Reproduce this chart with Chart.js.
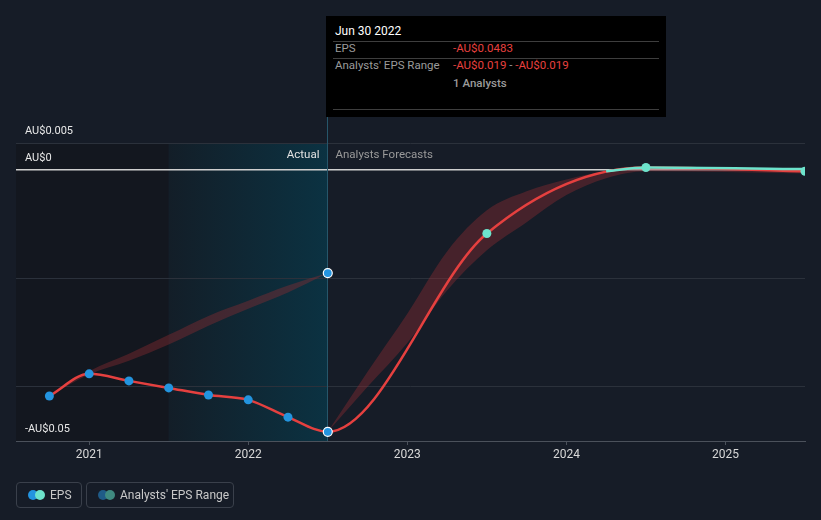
<!DOCTYPE html>
<html>
<head>
<meta charset="utf-8">
<script src="https://cdn.jsdelivr.net/npm/chart.js@4.4.1/dist/chart.umd.min.js"></script>
<style>
  body { margin: 0; background: #161c27; font-family: Roboto, 'Noto Sans', sans-serif; }
  #wrap { position: relative; width: 821px; height: 520px; overflow: hidden; }
  #tip { position: absolute; left: 326px; top: 16px; width: 340px; height: 101px; background: #000; font-size: 11.5px; }
  #tip .t { position: absolute; white-space: nowrap; line-height: 14px; }
  #tip .hr { position: absolute; left: 7px; width: 326px; height: 1px; background: #3e3e3e; }
  .red { color: #e8403f; }
  .gray { color: #9b9b9b; }
  .lg { position: absolute; top: 482px; height: 26px; border: 1px solid #3a404b; border-radius: 4px; box-sizing: border-box; }
  .lg .d { position: absolute; top: 7px; width: 10px; height: 10px; border-radius: 50%; }
  .lg .l { position: absolute; top: 5px; font-size: 12px; color: #c8c8c8; white-space: nowrap; line-height: 14px; }
</style>
</head>
<body>
<div id="wrap">
  <canvas id="eps" width="821" height="520"></canvas>

  <div id="tip">
    <div class="t" style="left:9px;top:8px;color:#fff;font-size:12px;">Jun 30 2022</div>
    <div class="hr" style="top:25px"></div>
    <div class="t gray" style="left:9px;top:25px;">EPS</div>
    <div class="t red" style="left:127px;top:25px;">-AU$0.0483</div>
    <div class="hr" style="top:42px"></div>
    <div class="t gray" style="left:9px;top:42px;">Analysts' EPS Range</div>
    <div class="t" style="left:127px;top:42px;"><span class="red">-AU$0.019</span><span class="gray"> - </span><span class="red">-AU$0.019</span></div>
    <div class="t gray" style="left:127px;top:60px;font-weight:500;">1 Analysts</div>
    <div class="hr" style="top:93px"></div>
  </div>

  <div class="lg" style="left:16px;width:66px;">
    <span class="d" style="left:11px;background:#2394df"></span>
    <span class="d" style="left:18px;background:#6de3cc"></span>
    <span class="l" style="left:33px">EPS</span>
  </div>
  <div class="lg" style="left:86px;width:148px;">
    <span class="d" style="left:11px;background:#1f5b87"></span>
    <span class="d" style="left:18px;background:#3f8a80"></span>
    <span class="l" style="left:33px">Analysts' EPS Range</span>
  </div>
</div>

<script>
// time as decimal years, EPS in AU$
var histX   = [2020.75, 2021.0, 2021.25, 2021.5, 2021.75, 2022.0, 2022.25, 2022.5];
var histEps = [-0.0417, -0.0376, -0.0389, -0.0402, -0.0415, -0.0424, -0.0456, -0.0483];
var fcX   = [2023.5, 2024.5, 2025.5];
var fcEps = [-0.0117, 0.0005, -0.0002];

// positive part of the forecast line (drawn in green)
var posX   = [2024.25, 2024.5, 2025.5];
var posEps = [-0.0002, 0.0005, 0.0002];

// past analyst estimate range
var pastRangeX    = [2020.75, 2021.0, 2021.25, 2021.5, 2021.75, 2022.0, 2022.25, 2022.5];
var pastRangeHigh = [-0.0417, -0.0371, -0.0339, -0.0304, -0.0269, -0.0241, -0.0213, -0.019];
var pastRangeLow  = [-0.0417, -0.0377, -0.0352, -0.0322, -0.0287, -0.0256, -0.0226, -0.019];

// forecast range
var fcRangeX    = [2022.5, 2022.75, 2023.0, 2023.25, 2023.5, 2023.75, 2024.0, 2024.25, 2024.5, 2025.5];
var fcRangeHigh = [-0.0483, -0.0372, -0.0265, -0.0150, -0.0074, -0.0039, -0.0017, -0.0002, 0.0006, 0.0003];
var fcRangeLow  = [-0.0483, -0.0400, -0.0319, -0.0222, -0.0148, -0.0096, -0.0046, -0.0015, -0.0002, -0.0006];

var xTicks = [2021, 2022, 2023, 2024, 2025];
var yTicks = [-0.05, -0.04, -0.02, 0, 0.005];
var yLabels = { '-0.05': '-AU$0.05', '0': 'AU$0', '0.005': 'AU$0.005' };

var actualStart = 2021.5;
var actualEnd = 2022.5;

function pts(xs, ys) {
  return xs.map(function (x, i) { return { x: x, y: ys[i] }; });
}

var FONT = 'Roboto, "Noto Sans", sans-serif';

var backdrop = {
  id: 'backdrop',
  beforeDraw: function (chart) {
    var c = chart.ctx, a = chart.chartArea, x = chart.scales.x, y = chart.scales.y;
    var top = y.getPixelForValue(0.005);
    var x0 = x.getPixelForValue(actualStart), x1 = x.getPixelForValue(actualEnd);
    c.save();
    c.fillStyle = '#13171f';
    c.fillRect(a.left, top, x0 - a.left, a.bottom - top);
    var g = c.createLinearGradient(x0, 0, x1, 0);
    g.addColorStop(0, '#131e28');
    g.addColorStop(1, '#0b3242');
    c.fillStyle = g;
    c.fillRect(x0, top, x1 - x0, a.bottom - top);
    c.restore();
  },
  beforeDatasetsDraw: function (chart) {
    var c = chart.ctx, a = chart.chartArea, x = chart.scales.x, y = chart.scales.y;
    var x1 = Math.round(x.getPixelForValue(actualEnd)) - 0.5;
    c.save();
    c.strokeStyle = '#26566a';
    c.lineWidth = 1;
    c.beginPath();
    c.moveTo(x1, a.top);
    c.lineTo(x1, a.bottom);
    c.stroke();
    c.font = '11.5px ' + FONT;
    c.textBaseline = 'middle';
    var ty = y.getPixelForValue(0.005) + 12;
    c.fillStyle = '#e2e2e2';
    c.textAlign = 'right';
    c.fillText('Actual', x1 - 8, ty);
    c.fillStyle = '#9a9a9a';
    c.textAlign = 'left';
    c.fillText('Analysts Forecasts', x1 + 8, ty);
    c.restore();
  }
};

var ctx = document.getElementById('eps').getContext('2d');
var histColors = histX.map(function () { return '#2394df'; });
var fcColors = fcX.map(function () { return '#6de3cc'; });
var borderCols = histX.map(function (v, i) { return i === histX.length - 1 ? '#ffffff' : 'rgba(0,0,0,0)'; })
  .concat(fcX.map(function () { return 'rgba(0,0,0,0)'; }));

var myChart = new Chart(ctx, {
  type: 'line',
  data: {
    datasets: [
      {
        label: 'EPS positive',
        data: pts(posX, posEps),
        borderColor: '#6de3cc',
        borderWidth: 2.5,
        pointRadius: 0,
        cubicInterpolationMode: 'monotone',
        clip: { left: 5, top: 5, right: 0, bottom: 5 },
        order: 0
      },
      {
        label: 'EPS',
        data: pts(histX, histEps).concat(pts(fcX, fcEps)),
        borderColor: '#e5403f',
        borderWidth: 2.5,
        pointRadius: 4.5,
        pointBackgroundColor: histColors.concat(fcColors),
        pointBorderColor: borderCols,
        pointBorderWidth: 1.2,
        cubicInterpolationMode: 'monotone',
        clip: { left: 5, top: 5, right: 0, bottom: 5 },
        order: 1
      },
      {
        label: 'Past range high',
        data: pts(pastRangeX, pastRangeHigh),
        borderWidth: 0,
        borderColor: 'rgba(0,0,0,0)',
        backgroundColor: 'rgba(150,45,50,0.38)',
        fill: '+1',
        pointRadius: pastRangeX.map(function (v, i) { return i === pastRangeX.length - 1 ? 4.5 : 0; }),
        pointBackgroundColor: '#2394df',
        pointBorderColor: '#ffffff',
        pointBorderWidth: 1.2,
        cubicInterpolationMode: 'monotone',
        order: 2
      },
      {
        label: 'Past range low',
        data: pts(pastRangeX, pastRangeLow),
        borderWidth: 0,
        borderColor: 'rgba(0,0,0,0)',
        pointRadius: 0,
        fill: false,
        cubicInterpolationMode: 'monotone',
        order: 3
      },
      {
        label: 'Forecast range high',
        data: pts(fcRangeX, fcRangeHigh),
        borderWidth: 0,
        borderColor: 'rgba(0,0,0,0)',
        backgroundColor: 'rgba(150,45,50,0.38)',
        fill: '+1',
        pointRadius: 0,
        cubicInterpolationMode: 'monotone',
        order: 4
      },
      {
        label: 'Forecast range low',
        data: pts(fcRangeX, fcRangeLow),
        borderWidth: 0,
        borderColor: 'rgba(0,0,0,0)',
        pointRadius: 0,
        fill: false,
        cubicInterpolationMode: 'monotone',
        order: 5
      }
    ]
  },
  options: {
    responsive: false,
    animation: false,
    events: [],
    layout: { padding: { left: 16, right: 16, top: 116, bottom: 49 } },
    plugins: {
      legend: { display: false },
      tooltip: { enabled: false }
    },
    scales: {
      x: {
        type: 'linear',
        min: 2020.54,
        max: 2025.5,
        afterBuildTicks: function (s) { s.ticks = xTicks.map(function (v) { return { value: v }; }); },
        afterFit: function (s) { s.height = 30; },
        ticks: {
          color: '#d8d8d8',
          font: { family: FONT, size: 12 },
          padding: 3,
          maxRotation: 0,
          autoSkip: false,
          callback: function (v) { return String(v); }
        },
        grid: { drawOnChartArea: false, drawTicks: true, tickLength: 4, color: '#4b515b' },
        border: { color: '#4b515b', width: 1 }
      },
      y: {
        type: 'linear',
        min: -0.05,
        max: 0.01,
        afterBuildTicks: function (s) { s.ticks = yTicks.map(function (v) { return { value: v }; }); },
        afterFit: function (s) { s.width = 0; },
        ticks: {
          mirror: true,
          padding: 9,
          labelOffset: -12,
          color: '#e8e8e8',
          font: { family: FONT, size: 11 },
          callback: function (v) { return yLabels[String(v)] || ''; }
        },
        grid: {
          drawTicks: false,
          color: function (c) {
            if (c.tick.value === 0) return '#cfcfcf';
            if (c.tick.value === -0.05) return 'rgba(0,0,0,0)';
            return '#2b313b';
          },
          lineWidth: function (c) { return c.tick.value === 0 ? 1.5 : 1; }
        },
        border: { display: false }
      }
    }
  },
  plugins: [backdrop]
});
</script>
</body>
</html>
